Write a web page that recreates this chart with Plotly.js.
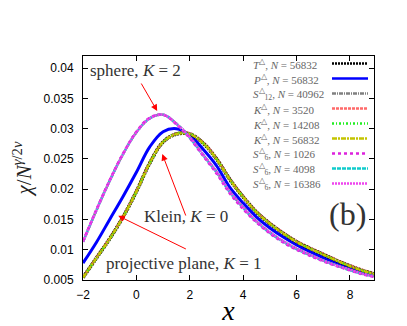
<!DOCTYPE html>
<html>
<head>
<meta charset="utf-8">
<script src="https://cdn.plot.ly/plotly-3.0.1.min.js"></script>
<style>
  html, body { margin: 0; padding: 0; background: #fff; }
  #plot { width: 407px; height: 326px; }
</style>
</head>
<body>
<div id="plot"></div>
<script>
// x grid shared by every curve
var xs = [-2, -1.5, -1, -0.5, 0, 0.5, 1, 1.5, 2, 2.5, 3, 3.5, 4, 4.5, 5, 5.5, 6, 6.5, 7, 7.5, 8, 8.5, 8.9];

// torus / Klein bottle group (K = 0)
var yT      = [0.0054, 0.0086, 0.0118, 0.0154, 0.0196, 0.0243, 0.0278, 0.0291, 0.0291, 0.0276, 0.0250, 0.0216, 0.0187, 0.0162, 0.0143, 0.0127, 0.0113, 0.0102, 0.0092, 0.0082, 0.0073, 0.0065, 0.0060];
var yK3520  = [0.0054, 0.0087, 0.0119, 0.0155, 0.0197, 0.0244, 0.0278, 0.0292, 0.0292, 0.0277, 0.0251, 0.0217, 0.0188, 0.0163, 0.0144, 0.0128, 0.0114, 0.0103, 0.0093, 0.0083, 0.0074, 0.0066, 0.0061];
var yK14208 = [0.0054, 0.0086, 0.0118, 0.0154, 0.0196, 0.0243, 0.0278, 0.0292, 0.0292, 0.0276, 0.0250, 0.0216, 0.0187, 0.0162, 0.0143, 0.0127, 0.0113, 0.0102, 0.0092, 0.0082, 0.0073, 0.0065, 0.0060];
var yK56832 = [0.0054, 0.0086, 0.0118, 0.0154, 0.0196, 0.0243, 0.0278, 0.0291, 0.0291, 0.0276, 0.0250, 0.0216, 0.0187, 0.0162, 0.0143, 0.0127, 0.0113, 0.0102, 0.0092, 0.0082, 0.0073, 0.0065, 0.0060];

// projective plane (K = 1)
var yP = [0.0078, 0.0112, 0.0150, 0.0188, 0.0228, 0.0270, 0.0295, 0.0300, 0.0289, 0.0266, 0.0239, 0.0203, 0.0177, 0.0154, 0.0136, 0.0121, 0.0108, 0.0097, 0.0087, 0.0078, 0.0070, 0.0062, 0.0058];

// sphere group (K = 2)
var yS12    = [0.0113, 0.0165, 0.0214, 0.0258, 0.0294, 0.0317, 0.0323, 0.0308, 0.0286, 0.0257, 0.0229, 0.0196, 0.0170, 0.0147, 0.0129, 0.0114, 0.0102, 0.0092, 0.0082, 0.0074, 0.0067, 0.0060, 0.0056];
var yS1026  = [0.0114, 0.0166, 0.0215, 0.0259, 0.0295, 0.0318, 0.0323, 0.0307, 0.0284, 0.0255, 0.0226, 0.0193, 0.0167, 0.0145, 0.0127, 0.0112, 0.0100, 0.0090, 0.0081, 0.0073, 0.0066, 0.0059, 0.0055];
var yS4098  = [0.0113, 0.0165, 0.0214, 0.0258, 0.0294, 0.0317, 0.0323, 0.0308, 0.0285, 0.0256, 0.0228, 0.0195, 0.0169, 0.0146, 0.0128, 0.0113, 0.0101, 0.0091, 0.0082, 0.0074, 0.0066, 0.0060, 0.0056];
var yS16386 = [0.0113, 0.0165, 0.0214, 0.0258, 0.0294, 0.0317, 0.0323, 0.0308, 0.0286, 0.0257, 0.0229, 0.0196, 0.0170, 0.0147, 0.0129, 0.0114, 0.0102, 0.0092, 0.0082, 0.0074, 0.0067, 0.0060, 0.0056];

// series in legend order
var names = [
  '<i>T</i><sup>\u25B3</sup>, <i>N</i> = 56832',
  '<i>P</i><sup>\u25B3</sup>, <i>N</i> = 56832',
  '<i>S</i><sup>\u25B3</sup><sub>12</sub>, <i>N</i> = 40962',
  '<i>K</i><sup>\u25B3</sup>, <i>N</i> = 3520',
  '<i>K</i><sup>\u25B3</sup>, <i>N</i> = 14208',
  '<i>K</i><sup>\u25B3</sup>, <i>N</i> = 56832',
  '<i>S</i><sup>\u25B3</sup><sub>6</sub>, <i>N</i> = 1026',
  '<i>S</i><sup>\u25B3</sup><sub>6</sub>, <i>N</i> = 4098',
  '<i>S</i><sup>\u25B3</sup><sub>6</sub>, <i>N</i> = 16386'
];
var series = [yT, yP, yS12, yK3520, yK14208, yK56832, yS1026, yS4098, yS16386];
var colors = ['#000000', '#0000ff', '#808080', '#ff6a6a', '#22ee22', '#c4c400', '#dd22dd', '#11cccc', '#ee44ee'];
var dashes = ['2px,1px', 'solid', '4px,1px,1px,1px', '3px,1px', '2px,2px,1px,2px', '5px,1px,2px,1px', '3px,3px', '4px,1px', '2px,1px'];
var widths = [3.5, 3, 2.5, 3, 2.5, 2.5, 2.5, 2.5, 2.5];

// plot area in pixels (for placing the hand-made legend)
var L = 83, R = 33, T = 56, B = 46, W = 407, H = 326;
var pw = W - L - R, ph = H - T - B;
function px2x(p) { return (p - L) / pw; }
function px2y(p) { return (H - B - p) / ph; }

var data = [];
for (var i = 0; i < series.length; i++) {
  data.push({
    x: xs, y: series[i], type: 'scatter', mode: 'lines',
    name: names[i], showlegend: false,
    line: { color: colors[i], dash: dashes[i], width: widths[i], shape: 'spline', smoothing: 1 }
  });
}
// blue first, then the K = 0 and sphere bundles on top
var order = [1, 3, 0, 4, 5, 2, 7, 6, 8];
data = order.map(function (k) { return data[k]; });

var serif = 'Times New Roman, serif';
var annotations = [];
var shapes = [];
for (var i = 0; i < names.length; i++) {
  var yy = 63.5 + i * 15;
  annotations.push({
    xref: 'paper', yref: 'paper', x: px2x(251), y: px2y(yy),
    xanchor: 'left', yanchor: 'middle', showarrow: false,
    text: names[i], font: { family: serif, size: 11, color: '#666' }
  });
  shapes.push({
    type: 'line', xref: 'paper', yref: 'paper',
    x0: px2x(332), x1: px2x(368), y0: px2y(yy), y1: px2y(yy),
    line: { color: colors[i], dash: dashes[i], width: 2.5 }
  });
}

var labelFont = { family: serif, size: 17, color: '#333' };
annotations.push(
  { xref: 'paper', yref: 'paper', x: px2x(88), y: px2y(70), xanchor: 'left', yanchor: 'middle', showarrow: false,
    text: 'sphere, <i>K</i> = 2', font: labelFont },
  { xref: 'paper', yref: 'paper', x: px2x(142), y: px2y(216), xanchor: 'left', yanchor: 'middle', showarrow: false,
    text: 'Klein, <i>K</i> = 0', font: labelFont },
  { xref: 'paper', yref: 'paper', x: px2x(104), y: px2y(263), xanchor: 'left', yanchor: 'middle', showarrow: false,
    text: 'projective plane, <i>K</i> = 1', font: labelFont },
  { xref: 'paper', yref: 'paper', x: px2x(347), y: px2y(214), xanchor: 'center', yanchor: 'middle', showarrow: false,
    text: '(b)', font: { family: serif, size: 32, color: '#333' } },
  // red arrows
  { x: 0.78, y: 0.0329, ax: 0.15, ay: 0.0377, axref: 'x', ayref: 'y', text: '', showarrow: true,
    arrowhead: 2, arrowsize: 1.3, arrowwidth: 1, arrowcolor: 'red' },
  { x: 0.97, y: 0.0258, ax: 1.87, ay: 0.0154, axref: 'x', ayref: 'y', text: '', showarrow: true,
    arrowhead: 2, arrowsize: 1.3, arrowwidth: 1, arrowcolor: 'red' },
  { x: -0.68, y: 0.0156, ax: 1.91, ay: 0.0100, axref: 'x', ayref: 'y', text: '', showarrow: true,
    arrowhead: 2, arrowsize: 1.3, arrowwidth: 1, arrowcolor: 'red' }
);

var tickFont = { family: 'Liberation Sans', size: 12, color: '#000' };
var layout = {
  width: W, height: H,
  margin: { l: L, r: R, t: T, b: B },
  paper_bgcolor: '#fff', plot_bgcolor: '#fff',
  showlegend: false,
  xaxis: {
    range: [-2, 8.9], tickvals: [-2, 0, 2, 4, 6, 8],
    ticks: 'inside', ticklen: 5, tickcolor: '#000', mirror: 'ticks',
    showline: true, linecolor: '#000', linewidth: 1, showgrid: false, zeroline: false,
    tickfont: tickFont, ticklabelstandoff: 4,
    title: { text: '<i>x</i>', font: { family: serif, size: 28, color: '#000' }, standoff: 6 }
  },
  yaxis: {
    range: [0.005, 0.042], dtick: 0.005, tick0: 0.005,
    ticks: 'inside', ticklen: 5, tickcolor: '#000', mirror: 'ticks',
    showline: true, linecolor: '#000', linewidth: 1, showgrid: false, zeroline: false,
    tickfont: tickFont, ticklabelstandoff: 6,
    title: { text: '<i>\u03C7</i>/<i>N</i><sup><i>\u03B3</i>/2<i>\u03BD</i></sup>', font: { family: serif, size: 21, color: '#222' }, standoff: 6 }
  },
  annotations: annotations,
  shapes: shapes
};

Plotly.newPlot('plot', data, layout, { staticPlot: true, displayModeBar: false });
</script>
</body>
</html>
